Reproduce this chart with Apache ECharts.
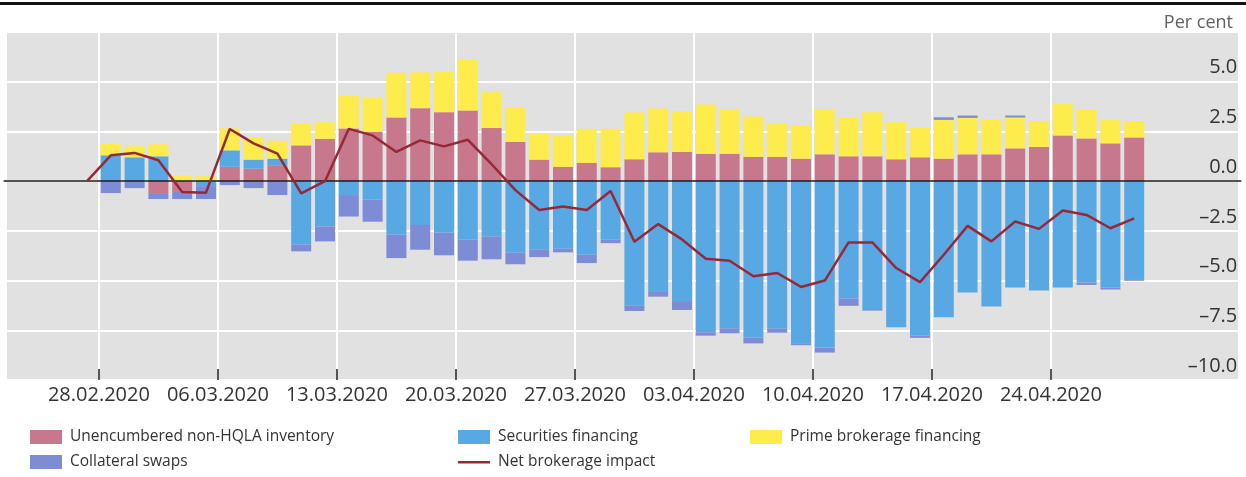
<!DOCTYPE html>
<html>
<head>
<meta charset="utf-8">
<script src="https://cdn.jsdelivr.net/npm/echarts@6/dist/echarts.min.js"></script>
<style>
  html, body { margin: 0; padding: 0; background: #ffffff; }
  #chart { width: 1246px; height: 477px; }
</style>
</head>
<body>
<div id="chart"></div>
<script>
// Business days with data
const days = [
  '28.02.2020',
  '02.03.2020', '03.03.2020', '04.03.2020', '05.03.2020', '06.03.2020',
  '09.03.2020', '10.03.2020', '11.03.2020', '12.03.2020', '13.03.2020',
  '16.03.2020', '17.03.2020', '18.03.2020', '19.03.2020', '20.03.2020',
  '23.03.2020', '24.03.2020', '25.03.2020', '26.03.2020', '27.03.2020',
  '30.03.2020', '31.03.2020', '01.04.2020', '02.04.2020', '03.04.2020',
  '06.04.2020', '07.04.2020', '08.04.2020', '09.04.2020', '10.04.2020',
  '13.04.2020', '14.04.2020', '15.04.2020', '16.04.2020', '17.04.2020',
  '20.04.2020', '21.04.2020', '22.04.2020', '23.04.2020', '24.04.2020',
  '27.04.2020', '28.04.2020', '29.04.2020', '30.04.2020'
];
// Empty business days that pad the axis on either side
const leadDays = ['25.02.2020', '26.02.2020', '27.02.2020'];
const trailDays = ['01.05.2020', '04.05.2020', '05.05.2020', '06.05.2020'];

// Weekly tick labels (Fridays)
const weekLabels = [
  '28.02.2020', '06.03.2020', '13.03.2020', '20.03.2020', '27.03.2020',
  '03.04.2020', '10.04.2020', '17.04.2020', '24.04.2020'
];

// Components, per cent
const unencumbered = [
  0,
  0, 0, -0.6, -0.5, 0,
  0.72, 0.63, 0.8, 1.8, 2.13,
  2.65, 2.47, 3.2, 3.67, 3.47,
  3.55, 2.67, 1.97, 1.08, 0.72,
  0.92, 0.7, 1.1, 1.45, 1.47,
  1.38, 1.38, 1.22, 1.22, 1.13,
  1.35, 1.25, 1.25, 1.1, 1.2,
  1.13, 1.35, 1.35, 1.65, 1.72,
  2.3, 2.15, 1.9, 2.2
];
const securities = [
  0,
  1.3, 1.2, 1.25, 0, -0.25,
  0.83, 0.45, 0.33, -3.2, -2.28,
  -0.7, -0.92, -2.7, -2.2, -2.6,
  -2.95, -2.78, -3.6, -3.45, -3.4,
  -3.7, -2.95, -6.25, -5.53, -6.03,
  -7.6, -7.4, -7.88, -7.42, -8.15,
  -8.37, -5.9, -6.43, -7.35, -7.78,
  -6.85, -5.6, -6.3, -5.35, -5.5,
  -5.35, -5.1, -5.35, -4.93
];
const primeBrokerage = [
  0,
  0.6, 0.55, 0.6, 0.3, 0.25,
  1.1, 1.1, 0.9, 1.08, 0.83,
  1.65, 1.72, 2.25, 1.8, 2.05,
  2.55, 1.8, 1.75, 1.3, 1.58,
  1.71, 1.93, 2.35, 2.2, 2.05,
  2.47, 2.25, 2.03, 1.7, 1.67,
  2.28, 1.95, 2.21, 1.86, 1.48,
  1.95, 1.83, 1.78, 1.55, 1.3,
  1.6, 1.45, 1.2, 0.82
];
const collateralSwaps = [
  0,
  -0.6, -0.35, -0.3, -0.4, -0.65,
  -0.2, -0.35, -0.7, -0.33, -0.75,
  -1.08, -1.12, -1.17, -1.25, -1.13,
  -1.05, -1.15, -0.58, -0.37, -0.18,
  -0.42, -0.17, -0.28, -0.28, -0.45,
  -0.17, -0.25, -0.28, -0.2, -0.1,
  -0.25, -0.37, -0.08, 0, -0.1,
  0.13, 0.12, 0, 0.1, 0,
  0, -0.12, -0.1, -0.08
];
const netImpact = [
  0,
  1.3, 1.42, 1.05, -0.55, -0.58,
  2.62, 1.9, 1.38, -0.62, 0,
  2.63, 2.3, 1.47, 2.05, 1.75,
  2.08, 0.85, -0.45, -1.45, -1.28,
  -1.45, -0.5, -3.05, -2.16, -2.93,
  -3.9, -4.0, -4.78, -4.62, -5.32,
  -5.0, -3.08, -3.08, -4.37, -5.08,
  -3.7, -2.25, -3.03, -2.03, -2.4,
  -1.48, -1.7, -2.37, -1.87
];

const FONT = '"Open Sans", "Noto Sans", sans-serif';
const COLORS = {
  unencumbered: '#c8788c',
  securities: '#58a8e4',
  prime: '#fdec4c',
  collateral: '#7d8cd4',
  net: '#962837'
};

const axisDays = leadDays.concat(days, trailDays);
const padded = arr => leadDays.map(() => null).concat(arr);
// Weekly ticks sit on the boundary after each Friday
const weekTickPos = weekLabels.map(lbl => axisDays.indexOf(lbl) + 0.5);

function fmtY(v) {
  if (v > 5.01) return '';
  const s = Math.abs(v).toFixed(1);
  return v < 0 ? '\u2013' + s : s;
}

const barCommon = {
  type: 'bar',
  stack: 'impact',
  barWidth: 20,
  xAxisIndex: 0,
  emphasis: { disabled: true }
};

const legendCommon = {
  orient: 'vertical',
  top: 429,
  height: 60,
  padding: 0,
  itemGap: 9,
  itemWidth: 32,
  itemHeight: 14,
  selectedMode: false,
  textStyle: { fontFamily: FONT, fontSize: 15.5, lineHeight: 16, color: '#333333', padding: [0, 0, 0, 3] }
};

const chart = echarts.init(document.getElementById('chart'), null, { renderer: 'canvas' });

chart.setOption({
  animation: false,
  textStyle: { fontFamily: FONT },
  title: {
    text: 'Per cent',
    right: 8,
    top: 9,
    textStyle: { fontFamily: FONT, fontSize: 18, fontWeight: 'normal', color: '#606060' }
  },
  graphic: [
    { type: 'rect', left: 0, top: 2, z: 10, silent: true, shape: { width: 1246, height: 3 }, style: { fill: '#111111' } },
    { type: 'rect', z: -10, silent: true, shape: { x: 7, y: 32, width: 1231, height: 348 }, style: { fill: '#e1e1e1' } }
  ],
  grid: {
    left: 3.7,
    right: 4.7,
    top: 32,
    bottom: 97,
    show: false
  },
  xAxis: [
    {
      type: 'category',
      data: axisDays,
      position: 'top',
      boundaryGap: true,
      axisLine: { show: false },
      axisTick: { show: false },
      axisLabel: { show: false },
      splitLine: { show: false }
    },
    {
      type: 'value',
      position: 'bottom',
      min: -0.5,
      max: axisDays.length - 0.5,
      axisLine: { show: false },
      axisTick: {
        show: true,
        inside: true,
        length: 11,
        customValues: weekTickPos,
        lineStyle: { color: '#555555', width: 2 }
      },
      axisLabel: {
        customValues: weekTickPos,
        margin: 5,
        fontSize: 20,
        color: '#333333',
        fontFamily: FONT,
        formatter: v => axisDays[Math.round(v - 0.5)]
      },
      splitLine: { show: true, lineStyle: { color: '#ffffff', width: 2 } }
    }
  ],
  yAxis: {
    type: 'value',
    position: 'right',
    min: -10,
    max: 7.5,
    interval: 2.5,
    axisLine: { show: false },
    axisTick: { show: false },
    axisLabel: {
      inside: true,
      margin: 4,
      fontSize: 20,
      color: '#333333',
      fontFamily: FONT,
      verticalAlign: 'bottom',
      padding: [0, 0, 4, 0],
      formatter: fmtY
    },
    splitLine: {
      show: true,
      lineStyle: { color: '#ffffff', width: 2 }
    }
  },
  legend: [
    Object.assign({}, legendCommon, {
      left: 30,
      data: [
        { name: 'Unencumbered non-HQLA inventory', icon: 'rect' },
        { name: 'Collateral swaps', icon: 'rect' }
      ]
    }),
    Object.assign({}, legendCommon, {
      left: 458,
      data: [
        { name: 'Securities financing', icon: 'rect' },
        { name: 'Net brokerage impact', icon: 'path://M0,0M32,14M0,6L32,6L32,8.5L0,8.5Z' }
      ]
    }),
    Object.assign({}, legendCommon, {
      left: 750,
      data: [
        { name: 'Prime brokerage financing', icon: 'rect' }
      ]
    })
  ],
  series: [
    Object.assign({}, barCommon, {
      name: 'Unencumbered non-HQLA inventory',
      itemStyle: { color: COLORS.unencumbered },
      data: padded(unencumbered)
    }),
    Object.assign({}, barCommon, {
      name: 'Securities financing',
      itemStyle: { color: COLORS.securities },
      data: padded(securities)
    }),
    Object.assign({}, barCommon, {
      name: 'Prime brokerage financing',
      itemStyle: { color: COLORS.prime },
      data: padded(primeBrokerage)
    }),
    Object.assign({}, barCommon, {
      name: 'Collateral swaps',
      itemStyle: { color: COLORS.collateral },
      data: padded(collateralSwaps)
    }),
    {
      name: 'Net brokerage impact',
      type: 'line',
      xAxisIndex: 0,
      symbol: 'none',
      z: 5,
      lineStyle: { color: COLORS.net, width: 2.5 },
      itemStyle: { color: COLORS.net },
      emphasis: { disabled: true },
      data: padded(netImpact),
      markLine: {
        silent: true,
        symbol: 'none',
        label: { show: false },
        lineStyle: { color: '#1a1a1a', width: 1.5, type: 'solid' },
        data: [{ yAxis: 0 }],
        z: 4
      }
    }
  ]
});
</script>
</body>
</html>
